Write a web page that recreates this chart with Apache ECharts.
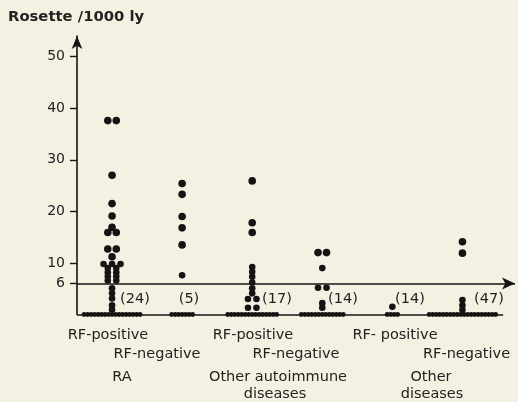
<!DOCTYPE html>
<html><head><meta charset="utf-8">
<script src="https://cdn.jsdelivr.net/npm/echarts@6/dist/echarts.min.js"></script>
<style>html,body{margin:0;padding:0;background:#f5f1e2}#c{width:518px;height:402px}</style>
</head><body><div id="c"></div>
<script>
// ---- data ----
const groupNames = ['RA RF-positive','RA RF-negative','Other autoimmune RF-positive','Other autoimmune RF-negative','Other diseases RF-positive','Other diseases RF-negative'];
const countLabels = ['(24)','(5)','(17)','(14)','(14)','(47)'];
const raPositive = [37.6,37.6,27.0,21.5,19.1,16.9,15.9,15.9,12.7,12.7,11.2,9.8,9.8,9.8,9.0,9.0,8.2,8.2,7.4,7.4,6.6,6.6,5.1,4.1,3.1,1.8,0.9,0,0,0,0,0,0,0,0,0,0,0,0,0,0,0,0,0];
const raNegative = [25.4,23.3,19.0,16.8,13.5,7.6,0,0,0,0,0,0,0];
const autoPositive = [25.9,17.8,15.9,9.2,8.3,7.3,6.2,5.1,4.1,3.0,3.0,1.3,1.3,0,0,0,0,0,0,0,0,0,0,0,0,0,0,0];
const autoNegative = [12.0,12.0,9.0,5.2,5.2,2.2,1.3,0,0,0,0,0,0,0,0,0,0,0,0,0];
const otherPositive = [1.5,0,0,0,0];
const otherNegative = [14.1,11.9,2.8,1.8,0.9,0,0,0,0,0,0,0,0,0,0,0,0,0,0,0,0,0,0,0,0];
const groupValues = [raPositive, raNegative, autoPositive, autoNegative, otherPositive, otherNegative];
const yTickValues = [6,10,20,30,40,50];
const threshold = 6;
const yTitle = 'Rosette /1000 ly';
const rfPositiveLabels = ['RF-positive','RF-positive','RF- positive'];
const rfNegativeLabels = ['RF-negative','RF-negative','RF-negative'];
const diseaseLabels = [['RA'],['Other autoimmune','diseases'],['Other','diseases']];

// ---- layout ----
const gridLeft = 77, gridRight = 3, W = 518;
const xMin = 0.5, xMax = 6.75;
const pxPerUnit = (W - gridLeft - gridRight) / (xMax - xMin);
const ink = '#141414';
const FONT = '"DejaVu Sans", sans-serif';

function spread(values, k) {
  const counts = {}, seen = {};
  values.forEach(v => counts[v] = (counts[v] || 0) + 1);
  return values.map(v => {
    seen[v] = seen[v] === undefined ? 0 : seen[v] + 1;
    const stepPx = v === 0 ? 3.5 : 8.5;
    const off = (seen[v] - (counts[v] - 1) / 2) * stepPx / pxPerUnit;
    return [k + off, v];
  });
}

const series = groupValues.map((vals, i) => ({
  type: 'scatter', name: groupNames[i],
  data: spread(vals, i + 1),
  symbolSize: d => d[1] === 0 ? 4.8 : (d[1] >= 11 ? 7.6 : 6.6),
  itemStyle: { color: ink, opacity: 1 },
  silent: true, animation: false, z: 3
}));
series[0].markLine = {
  silent: true, animation: false, symbol: ['none', 'arrow'], symbolSize: [9, 13],
  lineStyle: { color: ink, width: 1.6, type: 'solid' }, label: { show: false },
  emphasis: { disabled: true },
  data: [
    { yAxis: threshold },
    [{ coord: [xMin, 0], symbol: 'none' }, { coord: [6.58, 0], symbol: 'none' }]
  ]
};

const txt = (text, x, y, opts = {}) => ({
  type: 'text', silent: true,
  style: Object.assign({ text, x, y, fill: '#222', font: '14.5px ' + FONT, align: 'center', verticalAlign: 'middle' }, opts)
});
const graphics = [];
graphics.push(txt(yTitle, 8, 17, { align: 'left', font: 'bold 14.8px ' + FONT }));
const countX = [135, 189, 277, 343, 410, 489];
countLabels.forEach((t, i) => graphics.push(txt(t, countX[i], 299)));
const posX = [108, 253, 395];
rfPositiveLabels.forEach((t, i) => graphics.push(txt(t, posX[i], 335)));
const negX = [157, 296, 423];
rfNegativeLabels.forEach((t, i) => graphics.push(txt(t, negX[i], 354, i === 2 ? { align: 'left' } : {})));
const disX = [[122], [278, 275], [431, 432]];
diseaseLabels.forEach((lines, i) => lines.forEach((t, j) => graphics.push(txt(t, disX[i][j], 377 + j * 17))));

const chart = echarts.init(document.getElementById('c'), null, { renderer: 'canvas' });
chart.setOption({
  backgroundColor: '#f5f1e2',
  animation: false,
  grid: { left: gridLeft, right: gridRight, top: 36, bottom: 87.5, containLabel: false },
  xAxis: { type: 'value', min: xMin, max: xMax, show: false },
  yAxis: {
    type: 'value', min: 0, max: 54,
    axisLine: { show: true, lineStyle: { color: ink, width: 1.6 }, symbol: ['none', 'arrow'], symbolSize: [8, 13] },
    axisTick: { show: true, inside: false, length: 7, lineStyle: { color: ink, width: 1.4 }, customValues: yTickValues },
    axisLabel: { show: true, margin: 12, color: '#222', fontSize: 14, fontFamily: FONT, customValues: yTickValues },
    splitLine: { show: false }
  },
  series,
  graphic: graphics
});
</script></body></html>
